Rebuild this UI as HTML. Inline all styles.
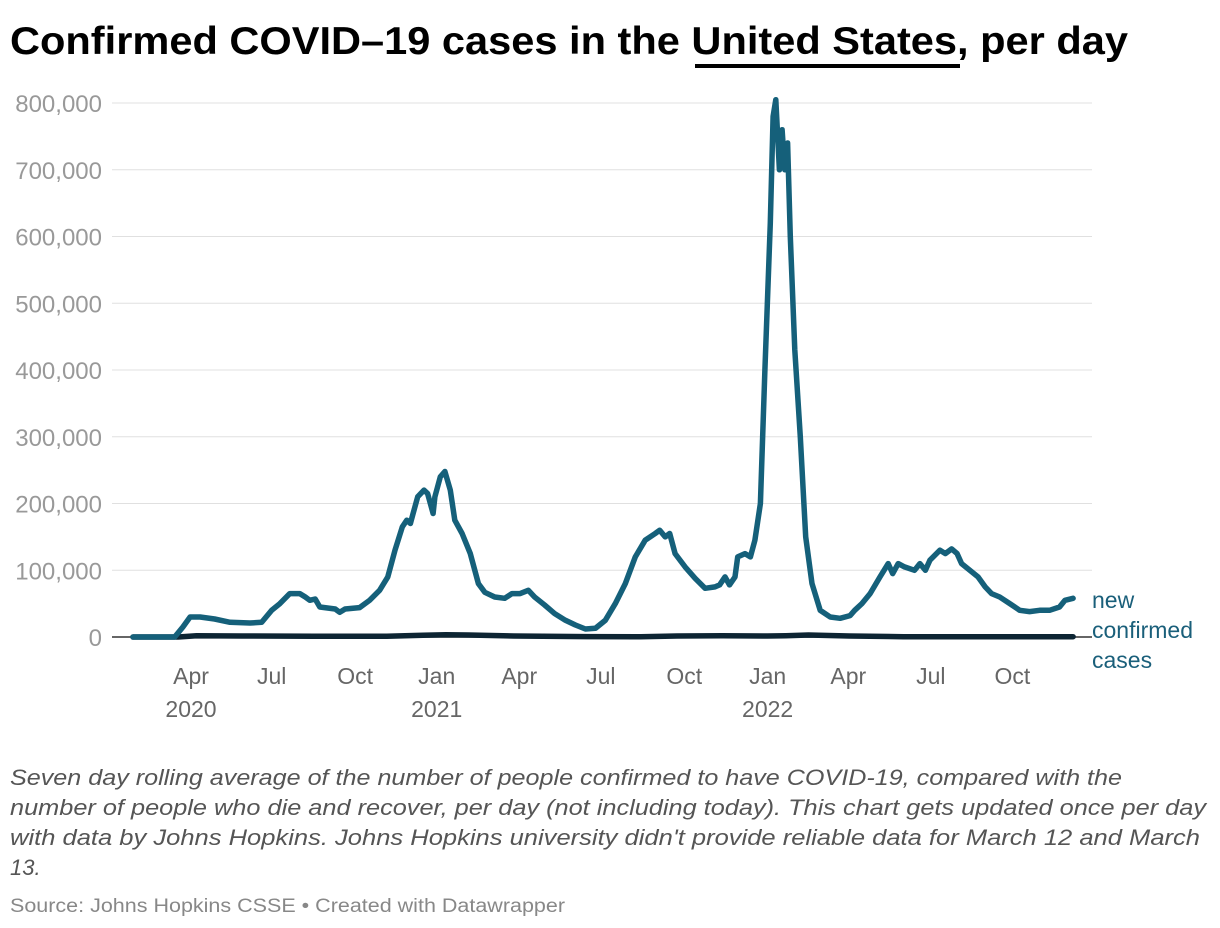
<!DOCTYPE html>
<html><head><meta charset="utf-8"><style>
body{margin:0;background:#fff;}
svg{display:block;font-family:"Liberation Sans",sans-serif;}
</style></head><body>
<svg id="chart" width="1220" height="928" viewBox="0 0 1220 928">
<text x="10" y="54" font-size="39" font-weight="bold" fill="#000" textLength="1118" lengthAdjust="spacingAndGlyphs">Confirmed COVID–19 cases in the United States, per day</text>
<line x1="695" y1="66" x2="960" y2="66" stroke="#000" stroke-width="4"/>
<g id="grid"></g>
<g id="xaxis"></g>
<g id="series"></g>
<text x="1092" y="608" font-size="23" fill="#1a5f7a"><tspan x="1092">new</tspan><tspan x="1092" dy="30">confirmed</tspan><tspan x="1092" dy="30">cases</tspan></text>
<g font-size="22" font-style="italic" fill="#555">
<text x="10" y="785" textLength="1112" lengthAdjust="spacingAndGlyphs">Seven day rolling average of the number of people confirmed to have COVID-19, compared with the</text>
<text x="10" y="815" textLength="1196" lengthAdjust="spacingAndGlyphs">number of people who die and recover, per day (not including today). This chart gets updated once per day</text>
<text x="10" y="845" textLength="1190" lengthAdjust="spacingAndGlyphs">with data by Johns Hopkins. Johns Hopkins university didn't provide reliable data for March 12 and March</text>
<text x="10" y="875">13.</text>
</g>
<text x="10" y="912" font-size="19" fill="#888" textLength="555" lengthAdjust="spacingAndGlyphs">Source: Johns Hopkins CSSE • Created with Datawrapper</text>
</svg>
<script>
const yTicks=[0,100000,200000,300000,400000,500000,600000,700000,800000];
const xTickDays=[64,153,245,335,426,516,608,700,789,880,970];
const xTickLabels=["Apr","Jul","Oct","Jan","Apr","Jul","Oct","Jan","Apr","Jul","Oct"];
const yearLabels=["2020","","","2021","","","","2022","","",""];
const caseDays=[0,46,55,63,74,90,107,129,142,153,162,173,184,190,195,201,206,223,228,234,250,261,272,281,289,297,302,306,309,314,321,325,331,333,339,344,350,355,363,372,381,388,399,410,418,427,436,443,454,465,477,488,499,510,521,532,543,554,565,576,581,587,592,598,609,620,631,642,647,653,658,664,667,675,681,686,692,697,703,706,709,713,716,719,722,725,730,736,742,749,758,769,780,791,796,804,813,824,833,838,844,851,862,868,874,879,890,896,903,909,914,923,932,940,947,956,967,978,989,1000,1011,1022,1028,1037];
const caseValues=[0,0,15,30,30,27,22,21,22,40,50,65,65,60,55,57,45,42,37,42,44,55,70,90,130,165,175,170,185,210,220,215,185,210,240,248,220,175,155,125,80,67,60,58,65,65,70,60,48,35,25,18,12,13,25,50,80,120,145,155,160,150,155,125,105,88,73,75,78,90,78,90,120,125,120,145,200,400,620,780,805,700,760,700,740,600,430,300,150,80,40,30,28,32,40,50,65,90,110,95,110,105,100,110,100,115,130,125,132,125,110,100,90,75,65,60,50,40,38,40,40,45,55,58].map(v=>v*1000);
const deathDays=[0,50,70,120,200,280,320,345,370,420,500,560,600,650,700,720,745,790,850,950,1037];
const deathValues=[0,0,2000,1500,1000,1200,2500,3500,3000,1500,600,500,1500,2000,1500,2000,3000,1500,500,400,400];

const svg=document.getElementById('chart'),NS='http://www.w3.org/2000/svg';
const xS=d=>133+d*0.9066;
const yS=v=>637-v/100000*66.75;
function mk(tag,attrs,parent){const e=document.createElementNS(NS,tag);for(const k in attrs)e.setAttribute(k,attrs[k]);parent.appendChild(e);return e;}
const grid=document.getElementById('grid');
yTicks.forEach(t=>{
  const l=mk('line',{x1:112,x2:1092,y1:yS(t),y2:yS(t),stroke:t===0?'#333':'#e0e0e0','stroke-width':t===0?1.5:1},grid);
  
  
  const tx=mk('text',{x:102,y:yS(t)+9,'text-anchor':'end','font-size':24,fill:'#999'},grid);
  tx.textContent=t.toLocaleString('en-US');
  
  
});
const xa=document.getElementById('xaxis');
xTickDays.forEach((d,i)=>{
  const t=mk('text',{x:xS(d),y:684,'text-anchor':'middle','font-size':23,fill:'#666'},xa);
  t.textContent=xTickLabels[i];
  
  
  if(yearLabels[i]){
    const y=mk('text',{x:xS(d),y:717,'text-anchor':'middle','font-size':23,fill:'#666'},xa);
    y.textContent=yearLabels[i];
    
    
  }
});
const ser=document.getElementById('series');
const dp=deathDays.map((d,i)=>(i?'L':'M')+xS(d).toFixed(1)+','+yS(deathValues[i]).toFixed(1)).join('');
const dl=mk('path',{d:dp,fill:'none',stroke:'#0d2533','stroke-width':5.5,'stroke-linejoin':'round','stroke-linecap':'round'},ser);


const cp=caseDays.map((d,i)=>(i?'L':'M')+xS(d).toFixed(1)+','+yS(caseValues[i]).toFixed(1)).join('');
const cl=mk('path',{d:cp,fill:'none',stroke:'#15607a','stroke-width':5.5,'stroke-linejoin':'round','stroke-linecap':'round'},ser);


</script>
</body></html>
